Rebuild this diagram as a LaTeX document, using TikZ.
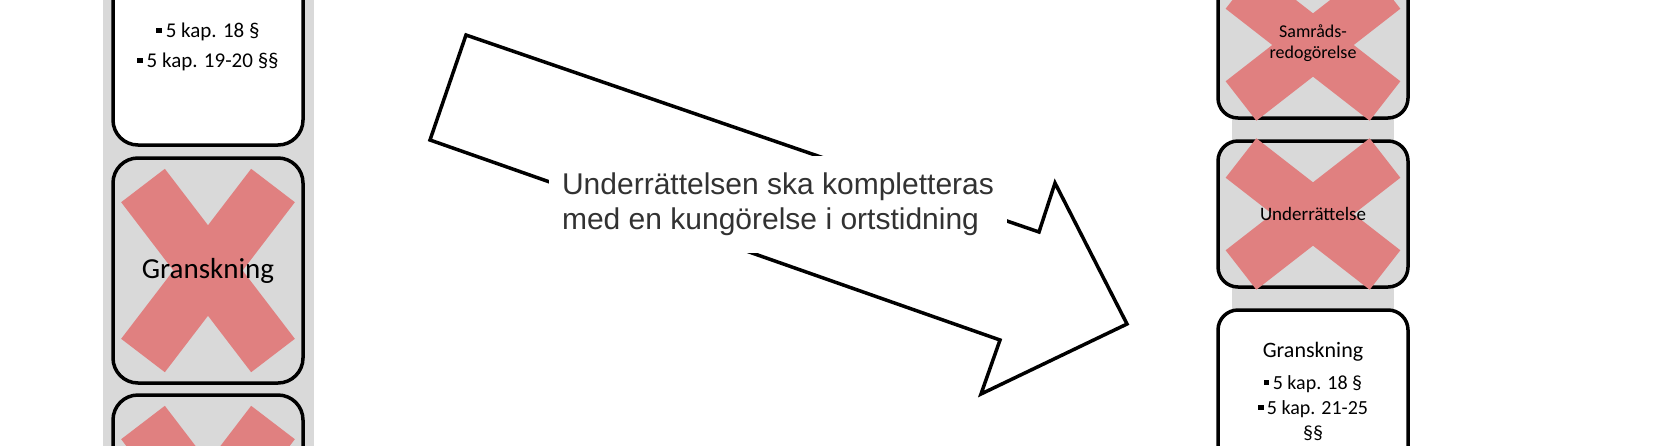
\documentclass[tikz,border=0pt]{standalone}
\usepackage{fontspec}
\setmainfont{Carlito}
\newfontfamily\pilfont{Liberation Sans}
\usetikzlibrary{positioning}

\definecolor{stapel}{RGB}{217,217,217}
\definecolor{kryssrod}{RGB}{224,128,128}
\definecolor{pilgra}{RGB}{50,50,50}

% liten fyrkantig punkt
\newcommand{\punkt}{\rule[0.2em]{0.28em}{0.28em}}
% rött kryss över en ruta: nod, halv dx, halv dy, bredd
\newcommand{\kryss}[4]{%
  \draw[kryssrod, line width=#4] ([shift={(-#2,-#3)}]#1.center) -- ([shift={(#2,#3)}]#1.center);
  \draw[kryssrod, line width=#4] ([shift={(#2,-#3)}]#1.center) -- ([shift={(-#2,#3)}]#1.center);
}

\begin{document}
\begin{tikzpicture}[x=1pt, y=-1pt,
    ruta/.style={draw, line width=3.5pt, minimum width=190pt, inner sep=0pt},
    vruta/.style={ruta, rounded corners=25pt, minimum height=225pt},
    hruta/.style={ruta, rounded corners=20pt, minimum height=146pt},
    pil/.style={draw, fill=white, line width=3.5pt, line join=miter}]
        \useasboundingbox (0,0) rectangle (1653,445);
        \clip (0,0) rectangle (1653,445);

        % staplarna
        \fill[stapel] (103,-10) rectangle (314,460);
        \fill[stapel] (1232,-10) rectangle (1394,460);

        % vänster kolumn
        \node[vruta, fill=white] (v1) at (208,32.5) {};
        \node[vruta, fill=stapel] (v2) at (208,270.5) {};
        \node[vruta, fill=stapel] (v3) at (208,507.5) {};
        \kryss{v2}{65}{85}{55pt}
        \kryss{v3}{65}{85}{55pt}
        \node[align=center, font=\fontsize{21}{30}\selectfont] (v1text) at (208,47) {\punkt\,5 kap. 18 §\\\punkt\,5 kap. 19-20 §§};
        \node[font=\fontsize{29}{32}\selectfont] (v2text) at (v2) {Granskning};

        % höger kolumn
        \node[hruta, fill=stapel] (h1) at (1313,45) {};
        \node[hruta, fill=stapel] (h2) at (1313,214) {};
        \node[hruta, fill=white, minimum height=210pt] (h3) at (1313,415) {};
        \kryss{h1}{72}{56}{50pt}
        \kryss{h2}{72}{56}{50pt}
        \node[align=center, font=\fontsize{18}{21}\selectfont] (h1text) at (1313,43) {Samråds-\\redogörelse};
        \node[font=\fontsize{19}{22}\selectfont] (h2text) at (h2) {Underrättelse};
        \node[font=\fontsize{22}{26}\selectfont] (h3rubrik) at (1313,352) {Granskning};
        \node[align=center, font=\fontsize{20}{25}\selectfont] (h3text) at (1313,408) {\punkt\,5 kap. 18 §\\\punkt\,5 kap. 21-25\\§§};

        % pilen
        \coordinate (svansA) at (466,35);
        \coordinate (svansB) at (430,140);
        \coordinate (hackA) at (1039,232);
        \coordinate (spetsA) at (1055,183);
        \coordinate (spets) at (1127,324);
        \coordinate (spetsB) at (981,394);
        \coordinate (hackB) at (1000,340);
        \draw[pil] (svansA) -- (hackA) -- (spetsA) -- (spets) -- (spetsB) -- (hackB) -- (svansB) -- cycle;
        \node[fill=white, inner sep=0pt, minimum width=458pt, minimum height=97pt, align=left, text=pilgra,
            font=\pilfont\fontsize{30}{35}\selectfont] (piltext) at (778,204)
            {Underrättelsen ska kompletteras\\med en kungörelse i ortstidning};

    \end{tikzpicture}
\end{document}
